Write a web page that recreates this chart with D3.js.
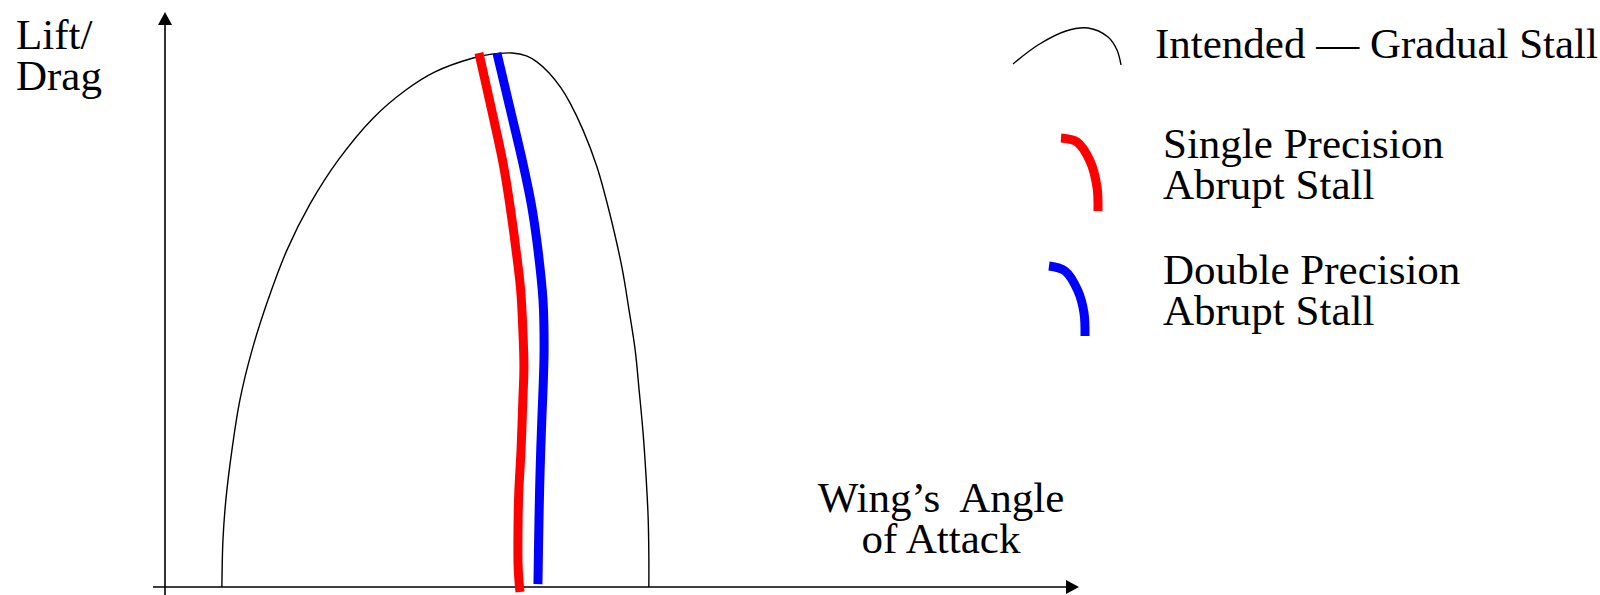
<!DOCTYPE html>
<html>
<head>
<meta charset="utf-8">
<script src="https://cdn.jsdelivr.net/npm/d3@7/dist/d3.min.js"></script>
<style>
  html, body { margin: 0; padding: 0; background: #fff; }
  svg { display: block; }
  text { font-family: "Liberation Serif", "Times New Roman", serif; fill: #000; white-space: pre; }
</style>
</head>
<body>
<script>
// Lift/Drag versus wing's angle of attack (degrees, arbitrary L/D units)
const intendedAngle = [1.58, 1.61, 1.69, 1.86, 2.08, 2.42, 2.86, 3.39, 4.03, 4.81, 5.78, 6.69, 7.5, 8.56, 9.03, 9.64,
                       10.04, 10.33, 10.67, 11.0, 11.25, 11.61, 12.0, 12.33, 12.69, 12.89, 13.06, 13.17, 13.28, 13.36, 13.42, 13.44, 13.44];
const intendedLD    = [0.00, 1.32, 2.44, 3.85, 5.25, 6.66, 8.06, 9.47, 10.76, 11.99, 13.17, 13.96, 14.47, 14.86, 14.96, 15.0,
                       14.92, 14.75, 14.44, 14.02, 13.6, 12.84, 11.8, 10.59, 8.99, 7.78, 6.66, 5.53, 4.33, 3.15, 1.97, 0.9, 0.00];

const singleAngle = [8.72, 9.06, 9.39, 9.58, 9.75, 9.88, 9.94, 9.97, 9.94, 9.89, 9.83, 9.81, 9.81, 9.86];
const singleLD    = [15.0, 13.46, 11.91, 10.73, 9.47, 8.34, 7.22, 6.18, 5.25, 3.85, 2.72, 1.97, 0.56, -0.14];

const doubleAngle = [9.22, 9.58, 9.94, 10.19, 10.36, 10.5, 10.53, 10.5, 10.47, 10.42, 10.39, 10.36];
const doubleLD    = [15.0, 13.46, 11.91, 10.67, 9.47, 8.06, 6.66, 5.53, 4.78, 3.29, 1.97, 0.08];

const legendLabels = [["Intended \u2014 Gradual Stall"], ["Single Precision", "Abrupt Stall"], ["Double Precision", "Abrupt Stall"]];
const yAxisLabel = ["Lift/", "Drag"];
const xAxisLabel = ["Wing\u2019s  Angle", "of Attack"];

const W = 1600, H = 595;
const svg = d3.select("body").append("svg").attr("width", W).attr("height", H);

const x = d3.scaleLinear().domain([0, 25]).range([165, 1065]);
const y = d3.scaleLinear().domain([0, 15]).range([587, 53]);

const zip = (a, b) => a.map((v, i) => [v, b[i]]);
const line = d3.line().x(d => x(d[0])).y(d => y(d[1])).curve(d3.curveCatmullRom.alpha(0.5));

// axes with arrowheads
const axisG = svg.append("g").attr("stroke", "#000").attr("stroke-width", 1.6);
axisG.append("line").attr("x1", x(0)).attr("x2", x(0)).attr("y1", H).attr("y2", 24);
axisG.append("line").attr("x1", x(0) - 12).attr("x2", x(25) + 2).attr("y1", y(0)).attr("y2", y(0));
svg.append("path").attr("fill", "#000")
  .attr("d", `M${x(0)},12 L${x(0) - 7},25 L${x(0) + 7},25 Z`);
svg.append("path").attr("fill", "#000")
  .attr("d", `M${x(25) + 14},${y(0)} L${x(25) + 1},${y(0) - 7} L${x(25) + 1},${y(0) + 7} Z`);

// curves
svg.append("path").attr("d", line(zip(intendedAngle, intendedLD)))
  .attr("fill", "none").attr("stroke", "#000").attr("stroke-width", 1.4);
svg.append("path").attr("d", line(zip(singleAngle, singleLD)))
  .attr("fill", "none").attr("stroke", "#ff0000").attr("stroke-width", 9).attr("stroke-linecap", "butt");
svg.append("path").attr("d", line(zip(doubleAngle, doubleLD)))
  .attr("fill", "none").attr("stroke", "#0000ff").attr("stroke-width", 9).attr("stroke-linecap", "butt");

// axis labels
const fs = 43;
svg.append("text").attr("x", 16).attr("y", 49).attr("font-size", fs)
  .selectAll("tspan").data(yAxisLabel).join("tspan")
  .attr("x", 16).attr("dy", (d, i) => i ? 41 : 0).text(d => d);
svg.append("text").attr("x", 941).attr("y", 512).attr("font-size", fs).attr("text-anchor", "middle")
  .selectAll("tspan").data(xAxisLabel).join("tspan")
  .attr("x", 941).attr("dy", (d, i) => i ? 41 : 0).text(d => d);

// legend
const glyph = d3.line().curve(d3.curveCatmullRom.alpha(0.5));
const legendGlyphs = [
  { pts: [[1013, 64], [1038, 45], [1066, 31], [1088, 28], [1108, 37], [1117, 50], [1121, 65]], color: "#000", w: 1.4 },
  { pts: [[1061, 138], [1077, 142], [1090, 161], [1097, 187], [1098, 211]], color: "#ff0000", w: 9 },
  { pts: [[1049, 266], [1065, 271], [1078, 291], [1084, 313], [1085, 336]], color: "#0000ff", w: 9 }
];
const legendPos = [{ x: 1155, y: 58 }, { x: 1163, y: 158 }, { x: 1163, y: 284 }];

legendGlyphs.forEach((g, i) => {
  svg.append("path").attr("d", glyph(g.pts)).attr("fill", "none")
    .attr("stroke", g.color).attr("stroke-width", g.w).attr("stroke-linecap", "butt");
  svg.append("text").attr("x", legendPos[i].x).attr("y", legendPos[i].y).attr("font-size", fs)
    .selectAll("tspan").data(legendLabels[i]).join("tspan")
    .attr("x", legendPos[i].x).attr("dy", (d, j) => j ? 41 : 0).text(d => d);
});
</script>
</body>
</html>
